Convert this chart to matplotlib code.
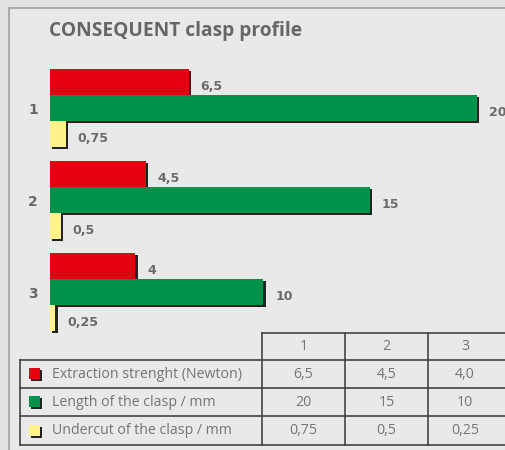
import matplotlib
matplotlib.use("Agg")
import matplotlib.pyplot as plt
from matplotlib.patches import Rectangle
import matplotlib.patheffects as pe

# ---- data ----
groups = ["1", "2", "3"]
extraction = [6.5, 4.5, 4.0]
length = [20, 15, 10]
undercut = [0.75, 0.5, 0.25]
bar_labels_extraction = ["6,5", "4,5", "4"]
bar_labels_length = ["20", "15", "10"]
bar_labels_undercut = ["0,75", "0,5", "0,25"]
series_names = ["Extraction strenght (Newton)", "Length of the clasp / mm", "Undercut of the clasp / mm"]
table_rows = [["6,5", "4,5", "4,0"], ["20", "15", "10"], ["0,75", "0,5", "0,25"]]
colors = ["#e3000f", "#00924a", "#fff38a"]
title = "CONSEQUENT clasp profile"

W, H = 506, 450
fig = plt.figure(figsize=(W / 100, H / 100), dpi=100)
fig.patch.set_facecolor("#e2e2e2")

# background axes in pixel coordinates (y down)
bg = fig.add_axes([0, 0, 1, 1])
bg.set_xlim(0, W)
bg.set_ylim(H, 0)
bg.axis("off")
bg.add_patch(Rectangle((9.5, 7.5), 520, 460, facecolor="#e9e9e9", edgecolor="#a0a0a0", lw=1.2))
bg.text(49, 31, title, fontsize=13.8, fontweight="bold", color="#666666",
        family="Open Sans", va="center", ha="left")

# bar axes
x0, x1 = 50, 506
y0, y1 = 60, 340
px_per_unit = 21.35
grp_px = 92.0
ax = fig.add_axes([x0 / W, 1 - y1 / H, (x1 - x0) / W, (y1 - y0) / H])
ax.set_xlim(0, (x1 - x0) / px_per_unit)
top = -(108 - y0) / grp_px
bot = (y1 - 108) / grp_px
ax.set_ylim(bot, top)
ax.axis("off")
ax.patch.set_alpha(0)

bh = 26 / grp_px
shadow = [pe.SimplePatchShadow(offset=(1.6, -1.6), shadow_rgbFace="#222222", alpha=1.0), pe.Normal()]
series = [(extraction, bar_labels_extraction, -bh),
          (length, bar_labels_length, 0.0),
          (undercut, bar_labels_undercut, bh)]
for (vals, labs, off), c in zip(series, colors):
    ypos = [i + off for i in range(len(groups))]
    bars = ax.barh(ypos, vals, height=bh, color=c, edgecolor="none")
    for b in bars:
        b.set_path_effects(shadow)
    for v, y, lab in zip(vals, ypos, labs):
        ax.annotate(lab, (v, y), xytext=(8.5, -3), textcoords="offset points",
                    fontsize=9, fontweight="bold", color="#6a6a6a",
                    family="DejaVu Sans", va="center", ha="left")

for i, g in enumerate(groups):
    bg.text(33, 108 + i * grp_px + 2, g, fontsize=10, fontweight="bold", color="#666666",
            family="DejaVu Sans", va="center", ha="center")

# ---- table (pixel coords) ----
col_x = [20, 262, 345, 428, 520]
row_y = [333, 360, 388, 416, 445]
lc = "#444444"
lw = 1.2
bg.plot([col_x[1], W], [row_y[0], row_y[0]], color=lc, lw=lw)
for x in col_x[1:4]:
    bg.plot([x, x], [row_y[0], row_y[-1]], color=lc, lw=lw)
bg.plot([col_x[0], col_x[0]], [row_y[1], row_y[-1]], color=lc, lw=lw)
for y in row_y[1:]:
    bg.plot([col_x[0], W], [y, y], color=lc, lw=lw)

tfont = dict(fontsize=10.2, color="#747474", family="Open Sans", va="center")
def col_center(j):
    return (col_x[j + 1] + col_x[j + 2]) / 2 if j < 2 else (col_x[3] + 506) / 2 - 2

for j, g in enumerate(groups):
    bg.text(col_center(j), (row_y[0] + row_y[1]) / 2, g, ha="center", **tfont)
for i, (name, vals) in enumerate(zip(series_names, table_rows)):
    yc = (row_y[i + 1] + row_y[i + 2]) / 2
    sq = Rectangle((29, yc - 6), 11, 11, facecolor=colors[i], edgecolor="none")
    sq.set_path_effects([pe.SimplePatchShadow(offset=(1.5, -1.5), shadow_rgbFace="#222222", alpha=1.0), pe.Normal()])
    bg.add_patch(sq)
    bg.text(52, yc, name, ha="left", **tfont)
    for j, v in enumerate(vals):
        bg.text(col_center(j), yc, v, ha="center", **tfont)

fig.savefig("out.png", dpi=100, facecolor=fig.get_facecolor())
